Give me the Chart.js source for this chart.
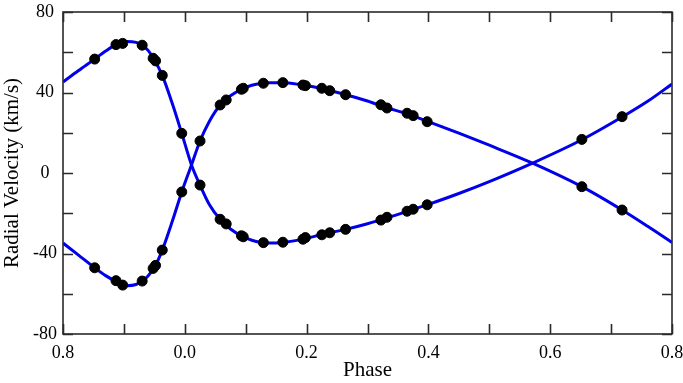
<!DOCTYPE html>
<html>
<head>
<meta charset="utf-8">
<script src="https://cdn.jsdelivr.net/npm/chart.js@4"></script>
<style>
  html, body { margin: 0; padding: 0; background: #fff; }
  #wrap { width: 683px; height: 383px; }
</style>
</head>
<body>
<div id="wrap"><canvas id="rv"></canvas></div>
<script>
// observed phases and radial velocities (km/s)
const phases = [-0.148, -0.113, -0.102, -0.070, -0.052, -0.048, -0.037, -0.005, 0.025, 0.058, 0.068, 0.093, 0.096, 0.129, 0.161, 0.194, 0.198, 0.225, 0.238, 0.264, 0.322, 0.332, 0.365, 0.375, 0.398, 0.652, 0.718];
const rvPrimary = [56.6, 63.8, 64.4, 63.5, 57.0, 55.7, 48.5, 19.7, -6.0, -23.0, -25.3, -31.2, -31.7, -34.6, -34.4, -32.9, -32.1, -30.7, -29.7, -28.0, -23.4, -22.0, -19.0, -18.0, -15.8, 16.7, 28.0];
const rvSecondary = [-47.1, -53.5, -55.7, -53.7, -47.4, -45.9, -38.3, -9.4, 15.9, 33.8, 36.3, 41.6, 42.1, 44.6, 44.9, 43.7, 43.4, 42.1, 40.9, 38.9, 33.9, 32.3, 29.7, 28.5, 25.5, -6.8, -18.4];

// orbit solution curves
const modelPhase = [-0.2, -0.175, -0.148, -0.13, -0.113, -0.095, -0.08, -0.07, -0.06, -0.05, -0.037, -0.02, -0.005, 0.011, 0.025, 0.04, 0.058, 0.075, 0.093, 0.11, 0.135, 0.161, 0.19, 0.225, 0.264, 0.3, 0.332, 0.365, 0.4, 0.45, 0.5, 0.571, 0.652, 0.718, 0.76, 0.8];
const modelPrimary = [45.2, 50.8, 56.6, 60.6, 63.8, 65.4, 64.9, 63.5, 60.8, 56.3, 48.5, 34.0, 19.7, 4.0, -6.0, -15.5, -23.0, -27.8, -31.2, -33.4, -34.8, -34.5, -33.1, -30.6, -28.0, -25.2, -22.3, -19.1, -15.6, -10.2, -4.3, 4.9, 16.5, 27.8, 35.6, 44.2];
const modelSecondary = [-34.8, -40.7, -47.1, -51.0, -53.9, -56.0, -55.4, -53.7, -51.0, -47.0, -38.3, -23.5, -9.4, 4.0, 15.9, 25.5, 33.8, 38.4, 41.6, 43.6, 44.9, 44.9, 43.9, 42.0, 38.9, 35.8, 32.4, 29.4, 25.5, 19.8, 13.8, 4.9, -6.8, -18.4, -26.5, -34.5];

// axis ticks (phase -0.2 is shown as 0.8)
const xTickValues = [-0.2, 0.0, 0.2, 0.4, 0.6, 0.8];
const xTickLabels = ['0.8', '0.0', '0.2', '0.4', '0.6', '0.8'];
const xMinorStep = 0.1;
const yTickValues = [-80, -40, 0, 40, 80];
const yMinorStep = 20;

const toXY = (xs, ys) => xs.map((x, i) => ({ x: x, y: ys[i] }));

const blue = 'rgb(0,0,235)';
const ink = '#2a2a2a';

const framePlugin = {
    id: 'frame',
    afterDraw: function (chart) {
        const ctx = chart.ctx;
        const a = chart.chartArea;
        const xs = chart.scales.x, ys = chart.scales.y;
        const len = 10;
        ctx.save();
        ctx.strokeStyle = ink;
        ctx.lineWidth = 1.6;
        ctx.strokeRect(a.left, a.top, a.right - a.left, a.bottom - a.top);
        ctx.beginPath();
        for (let v = xs.min; v <= xs.max + 1e-9; v += xMinorStep) {
            const px = Math.round(xs.getPixelForValue(v)) + 0.5;
            ctx.moveTo(px, a.bottom); ctx.lineTo(px, a.bottom - len);
            ctx.moveTo(px, a.top); ctx.lineTo(px, a.top + len);
        }
        for (let v = ys.min; v <= ys.max + 1e-9; v += yMinorStep) {
            const py = Math.round(ys.getPixelForValue(v)) + 0.5;
            ctx.moveTo(a.left, py); ctx.lineTo(a.left + len, py);
            ctx.moveTo(a.right, py); ctx.lineTo(a.right - len, py);
        }
        ctx.stroke();
        ctx.restore();
    }
};

const serif = 'Liberation Serif';

new Chart(document.getElementById('rv'), {
    type: 'scatter',
    data: {
        datasets: [
            { data: toXY(phases, rvPrimary), backgroundColor: '#000', borderColor: '#000', pointRadius: 5, order: 0 },
            { data: toXY(phases, rvSecondary), backgroundColor: '#000', borderColor: '#000', pointRadius: 5, order: 0 },
            { data: toXY(modelPhase, modelPrimary), showLine: true, borderColor: blue, borderWidth: 3, pointRadius: 0, cubicInterpolationMode: 'monotone', order: 1 },
            { data: toXY(modelPhase, modelSecondary), showLine: true, borderColor: blue, borderWidth: 3, pointRadius: 0, cubicInterpolationMode: 'monotone', order: 1 }
        ]
    },
    options: {
        responsive: true,
        maintainAspectRatio: false,
        animation: false,
        layout: { padding: { left: 0, right: 11, top: 12, bottom: 0 } },
        plugins: { legend: { display: false }, tooltip: { enabled: false } },
        scales: {
            x: {
                type: 'linear',
                min: -0.2,
                max: 0.8,
                afterBuildTicks: function (s) { s.ticks = xTickValues.map(v => ({ value: v })); },
                afterFit: function (s) { s.height = 49; s.paddingLeft = 0; s.paddingRight = 0; },
                grid: { display: false, drawTicks: false },
                border: { display: false },
                ticks: {
                    autoSkip: false, maxRotation: 0, padding: 8, color: '#000',
                    font: { family: serif, size: 18 },
                    callback: function (v) {
                        const i = xTickValues.findIndex(t => Math.abs(t - v) < 1e-6);
                        return i >= 0 ? xTickLabels[i] : '';
                    }
                },
                title: { display: true, text: 'Phase', color: '#000', padding: 0, font: { family: serif, size: 21 } }
            },
            y: {
                min: -80,
                max: 80,
                afterBuildTicks: function (s) { s.ticks = yTickValues.map(v => ({ value: v })); },
                afterFit: function (s) { s.width = 63; s.paddingTop = 0; s.paddingBottom = 0; },
                grid: { display: false, drawTicks: false },
                border: { display: false },
                ticks: { padding: 6, crossAlign: 'center', color: '#000', font: { family: serif, size: 18 } },
                title: { display: true, text: 'Radial Velocity (km/s)', color: '#000', padding: 0, font: { family: serif, size: 21 } }
            }
        }
    },
    plugins: [framePlugin]
});
</script>
</body>
</html>
